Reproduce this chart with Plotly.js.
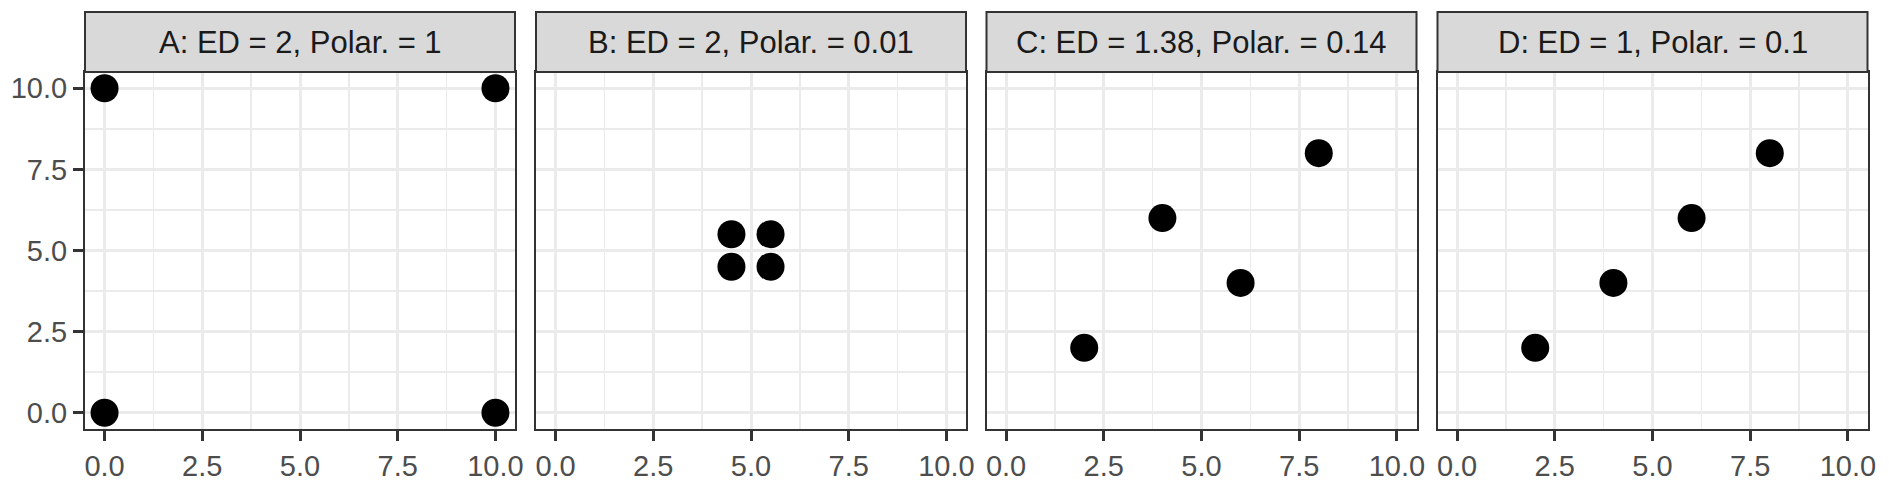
<!DOCTYPE html>
<html>
<head>
<meta charset="utf-8">
<script src="https://cdn.plot.ly/plotly-3.0.1.min.js"></script>
<style>html,body{margin:0;padding:0;background:#fff;}</style>
</head>
<body>
<div id="chart" style="width:1889px;height:482px;"></div>
<script>
// Data
var panelTitles = ["A: ED = 2, Polar. = 1", "B: ED = 2, Polar. = 0.01", "C: ED = 1.38, Polar. = 0.14", "D: ED = 1, Polar. = 0.1"];
var xA = [0, 0, 10, 10];
var yA = [0, 10, 0, 10];
var xB = [4.5, 4.5, 5.5, 5.5];
var yB = [4.5, 5.5, 4.5, 5.5];
var xC = [2, 4, 6, 8];
var yC = [2, 6, 4, 8];
var xD = [2, 4, 6, 8];
var yD = [2, 4, 6, 8];
var tickVals = [0, 2.5, 5, 7.5, 10];
var tickText = ["0.0", "2.5", "5.0", "7.5", "10.0"];
var minorVals = [1.25, 3.75, 6.25, 8.75];

var W = 1889, H = 482;
var panelsPx = [[85, 515], [536, 966], [986.5, 1416.5], [1437.5, 1867.5]];
var panelTop = 72, panelBottom = 429, stripTop = 12;
var xs = [xA, xB, xC, xD], ys = [yA, yB, yC, yD];

var data = [], layout = {
  width: W, height: H,
  margin: {l: 0, r: 0, t: 0, b: 0},
  paper_bgcolor: '#ffffff', plot_bgcolor: '#ffffff',
  showlegend: false,
  font: {family: 'Liberation Sans, Arial, sans-serif', color: '#4D4D4D'},
  shapes: [], annotations: []
};
var yDom = [(H - panelBottom) / H, (H - panelTop) / H];
for (var i = 0; i < 4; i++) {
  var sfx = i === 0 ? '' : String(i + 1);
  data.push({
    type: 'scatter', mode: 'markers', x: xs[i], y: ys[i],
    xaxis: 'x' + sfx, yaxis: 'y' + sfx,
    marker: {color: '#000000', size: 28},
    cliponaxis: false, hoverinfo: 'skip'
  });
  var dom = [panelsPx[i][0] / W, panelsPx[i][1] / W];
  var axCommon = {
    range: [-0.5, 10.5], tickmode: 'array', tickvals: tickVals, ticktext: tickText,
    showgrid: true, gridcolor: '#EBEBEB', gridwidth: 3,
    minor: {tickmode: 'array', tickvals: minorVals, showgrid: true, gridcolor: '#EBEBEB', gridwidth: 1.5, ticks: ''},
    zeroline: false, showline: true, mirror: true, linecolor: '#333333', linewidth: 2,
    ticks: 'outside', ticklen: 10, tickwidth: 3, tickcolor: '#333333',
    tickfont: {size: 29, color: '#4D4D4D', family: 'Liberation Sans, Arial, sans-serif'},
    fixedrange: true
  };
  var xa = JSON.parse(JSON.stringify(axCommon));
  xa.domain = dom; xa.anchor = 'y' + sfx;
  var ya = JSON.parse(JSON.stringify(axCommon));
  ya.domain = yDom; ya.anchor = 'x' + sfx;
  if (i > 0) { ya.showticklabels = false; ya.ticks = ''; }
  layout['xaxis' + sfx] = xa;
  layout['yaxis' + sfx] = ya;
  // strip
  layout.shapes.push({
    type: 'rect', xref: 'paper', yref: 'paper',
    x0: dom[0], x1: dom[1], y0: yDom[1], y1: (H - stripTop) / H,
    fillcolor: '#D9D9D9', line: {color: '#333333', width: 2}, layer: 'above'
  });
  layout.annotations.push({
    xref: 'paper', yref: 'paper', x: (dom[0] + dom[1]) / 2, y: (H - (stripTop + panelTop) / 2) / H,
    xanchor: 'center', yanchor: 'middle', showarrow: false,
    text: panelTitles[i], font: {size: 31, color: '#1A1A1A', family: 'Liberation Sans, Arial, sans-serif'}
  });
}
Plotly.newPlot('chart', data, layout, {staticPlot: true});
</script>
</body>
</html>
